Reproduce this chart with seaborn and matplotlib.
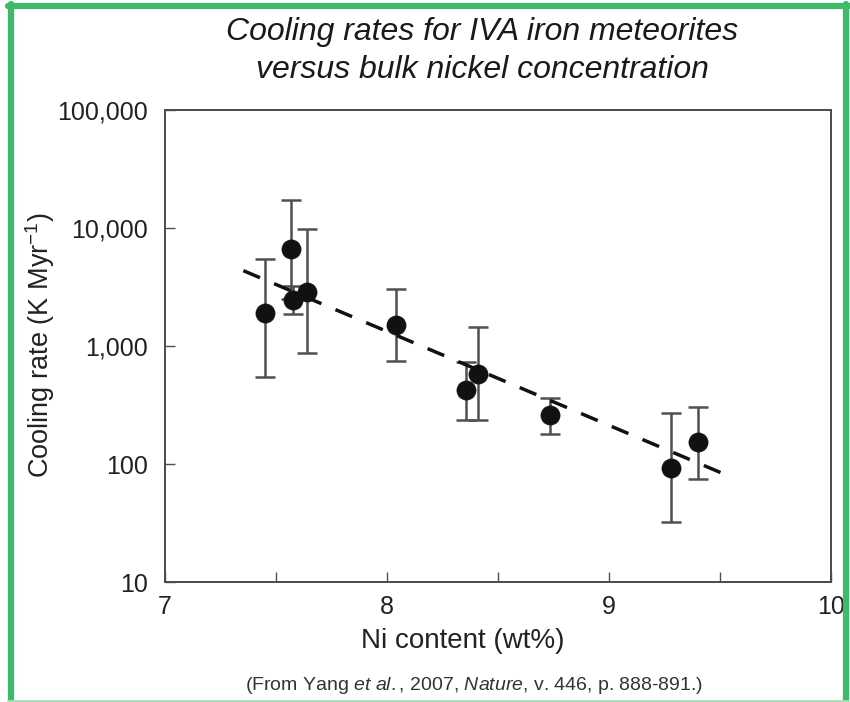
import matplotlib
matplotlib.use("Agg")
import matplotlib.pyplot as plt
from matplotlib.lines import Line2D
from matplotlib.ticker import FixedLocator, LogLocator, NullFormatter, FuncFormatter
import seaborn as sns
import pandas as pd
import numpy as np

# ---- data ----
ni_content = [7.45, 7.568, 7.577, 7.64, 8.039, 8.356, 8.409, 8.734, 9.278, 9.40]
cooling_rate = [1915, 6640, 2455, 2890, 1506, 424, 579, 259, 93, 153]
err_upper = [5430, 17260, 3200, 9810, 3040, 737, 1440, 360, 269, 302]
err_lower = [549, 2500, 1870, 873, 750, 236, 236, 180, 32, 75]
fit_x = [7.353, 9.52]
fit_y = [4350, 82]
x_ticks = [7, 8, 9, 10]
y_ticks = [10, 100, 1000, 10000, 100000]
y_tick_labels = ["10", "100", "1,000", "10,000", "100,000"]

sns.set_theme(style="white")
plt.rcParams["font.family"] = ["Liberation Sans", "DejaVu Sans"]
plt.rcParams["mathtext.fontset"] = "custom"
plt.rcParams["mathtext.rm"] = "Liberation Sans"
plt.rcParams["mathtext.it"] = "Liberation Sans:italic"

df = pd.DataFrame({"ni": ni_content, "rate": cooling_rate})
fit = pd.DataFrame({"x": fit_x, "y": fit_y})

fig = plt.figure(figsize=(8.5, 7.02), dpi=100)
W, H = 850, 702
ax = fig.add_axes([165 / W, 1 - 582 / H, (831 - 165) / W, (582 - 110) / H])

# error bars
yerr = np.array([np.array(cooling_rate) - np.array(err_lower),
                 np.array(err_upper) - np.array(cooling_rate)])
ax.errorbar(ni_content, cooling_rate, yerr=yerr, fmt="none", ecolor="#505050",
            elinewidth=1.8, capsize=7, capthick=1.8, zorder=2)

# fit line
sns.lineplot(data=fit, x="x", y="y", ax=ax, color="#111111", lw=2.5,
             dashes=False, zorder=3)
ax.lines[-1].set_dashes([5.2, 4.4])

# points
sns.scatterplot(data=df, x="ni", y="rate", ax=ax, color="#111111", s=190,
                edgecolor="#111111", linewidth=0.5, zorder=4)

ax.set_yscale("log")
ax.set_xlim(7, 10)
ax.set_ylim(10, 100000)
ax.xaxis.set_major_locator(FixedLocator([7, 7.5, 8, 8.5, 9, 9.5, 10]))
ax.xaxis.set_major_formatter(FuncFormatter(lambda v, p: f"{int(v)}" if v in x_ticks else ""))
ax.yaxis.set_major_locator(FixedLocator(y_ticks))
ax.yaxis.set_major_formatter(FuncFormatter(lambda v, p: y_tick_labels[y_ticks.index(int(round(v)))] if int(round(v)) in y_ticks else ""))
ax.yaxis.set_minor_locator(LogLocator(base=10, subs=np.arange(2, 10)))
ax.yaxis.set_minor_formatter(NullFormatter())

ax.tick_params(axis="both", which="major", direction="in", length=7, width=1,
               colors="#505050", labelcolor="#222222", labelsize=18)
ax.tick_params(axis="x", pad=9)
ax.tick_params(axis="y", pad=12)
ax.tick_params(axis="y", which="minor", direction="in", length=4, width=0.8,
               colors="#505050")
ax.tick_params(left=True, bottom=True, top=False, right=False)
for s in ax.spines.values():
    s.set_color("#4a4a4a")
    s.set_linewidth(1.4)

ax.set_xlabel("Ni content (wt%)", fontsize=20, color="#222222")
ax.xaxis.set_label_coords((463 - 165) / (831 - 165), -(628 - 582) / (582 - 110))
ax.set_ylabel("Cooling rate (K Myr$^{-1}$)", fontsize=19.5, color="#222222")
ax.yaxis.set_label_coords(-(165 - 57) / (831 - 165), (582 - 345) / (582 - 110))
if ax.legend_:
    ax.legend_.remove()

fig.text(482 / W, 1 - 32 / H, "Cooling rates for IVA iron meteorites",
         ha="center", va="center", fontsize=23, style="italic", color="#1a1a1a")
fig.text(482 / W, 1 - 70 / H, "versus bulk nickel concentration",
         ha="center", va="center", fontsize=23, style="italic", color="#1a1a1a")

fig.text(474 / W, 1 - 686 / H,
         r"(From Yang $\it{et}$ $\it{al.}$, 2007, $\it{Nature}$, v. 446, p. 888-891.)",
         ha="center", va="center", fontsize=14, color="#333333")

# green frame
g = "#3dba6a"
fig.add_artist(Line2D([10.5 / W, 10.5 / W], [0, 1 - 4 / H], transform=fig.transFigure, color=g, lw=4.5))
fig.add_artist(Line2D([8 / W, 1], [1 - 6 / H, 1 - 6 / H], transform=fig.transFigure, color=g, lw=4.5))
fig.add_artist(Line2D([845.5 / W, 845.5 / W], [0, 1 - 4 / H], transform=fig.transFigure, color=g, lw=4.5))
fig.add_artist(Line2D([8 / W, 848 / W], [1.5 / H, 1.5 / H], transform=fig.transFigure, color="#a8dcb8", lw=2))

fig.savefig("out.png", dpi=100)
